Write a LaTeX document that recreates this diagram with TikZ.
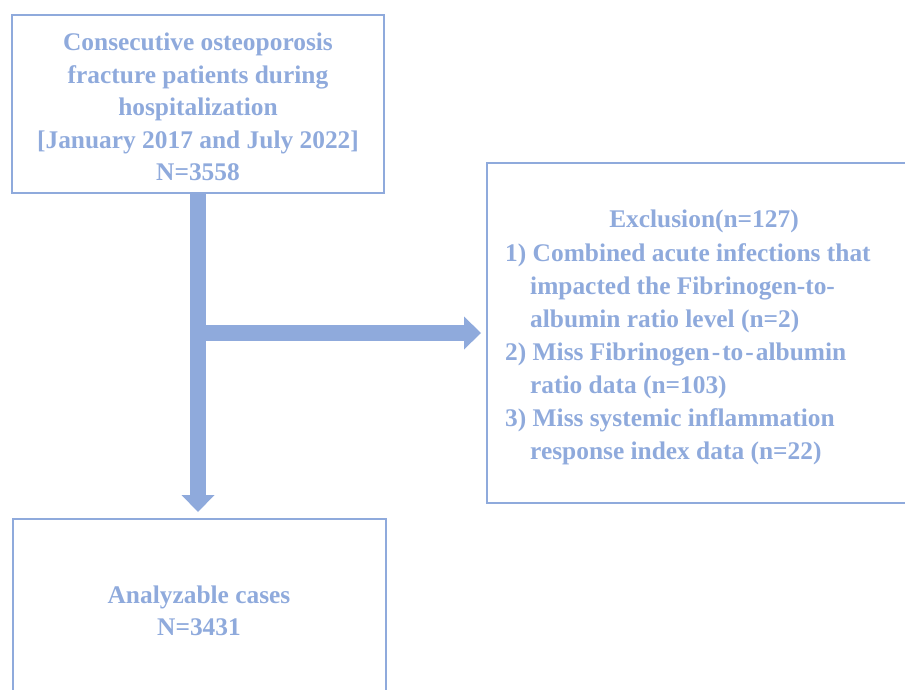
\documentclass[tikz,border=0pt]{standalone}
\usepackage{fontspec}
\setmainfont{Liberation Serif}
\usepackage{tikz}
\usetikzlibrary{arrows.meta,positioning,calc}
\definecolor{flowBlue}{HTML}{8FAADC}

\begin{document}
\begin{tikzpicture}[x=1pt,y=-1pt,
    font=\fontsize{25.4}{32.5}\selectfont\bfseries,text=flowBlue,
    box/.style={draw=flowBlue,line width=2pt,inner sep=0pt},
    flow/.style={draw=flowBlue,line width=16pt,
                 -{Triangle[length=17pt,width=33pt,line width=0pt]}}]
  \useasboundingbox (0,0) rectangle (905,690);
  % boxes
  \node[box,minimum width=372pt,minimum height=178pt] (cohort) at (198,104) {};
  \node[align=center] (cohorttext) at (198,107) {%
    Consecutive osteoporosis\\ fracture patients during\\ hospitalization\\
    {[}January 2017 and July 2022{]}\\ N=3558};
  \node[box,minimum width=440pt,minimum height=340pt] (excl) at (707,333) {};
  \node[anchor=base] (exclhead) at (704,227) {Exclusion(n=127)};
  \node[anchor=north west,inner sep=0pt,align=left,font=\fontsize{25.4}{33}\selectfont\bfseries]
    (excllist) at (505,243) {%
    1) Combined acute infections that\\
    \hspace*{25pt}impacted the Fibrinogen-to-\\
    \hspace*{25pt}albumin ratio level (n=2)\\
    2) Miss Fibrinogen\kern2pt-\kern2pt to\kern2pt-\kern2pt albumin\\
    \hspace*{25pt}ratio data (n=103)\\
    3) Miss systemic inflammation\\
    \hspace*{25pt}response index data (n=22)};
  \node[box,minimum width=373pt,minimum height=220pt] (cases) at (199.5,629) {};
  \node[align=center] (casestext) at (199,611) {Analyzable cases\\ N=3431};
  % arrows
  \coordinate (split) at (cohort.south |- excl.west);
  \draw[flow,shorten >=6pt] (cohort.south) -- (cohort.south |- cases.north);
  \draw[flow,shorten >=5pt] (split) -- (excl.west);
\end{tikzpicture}
\end{document}
